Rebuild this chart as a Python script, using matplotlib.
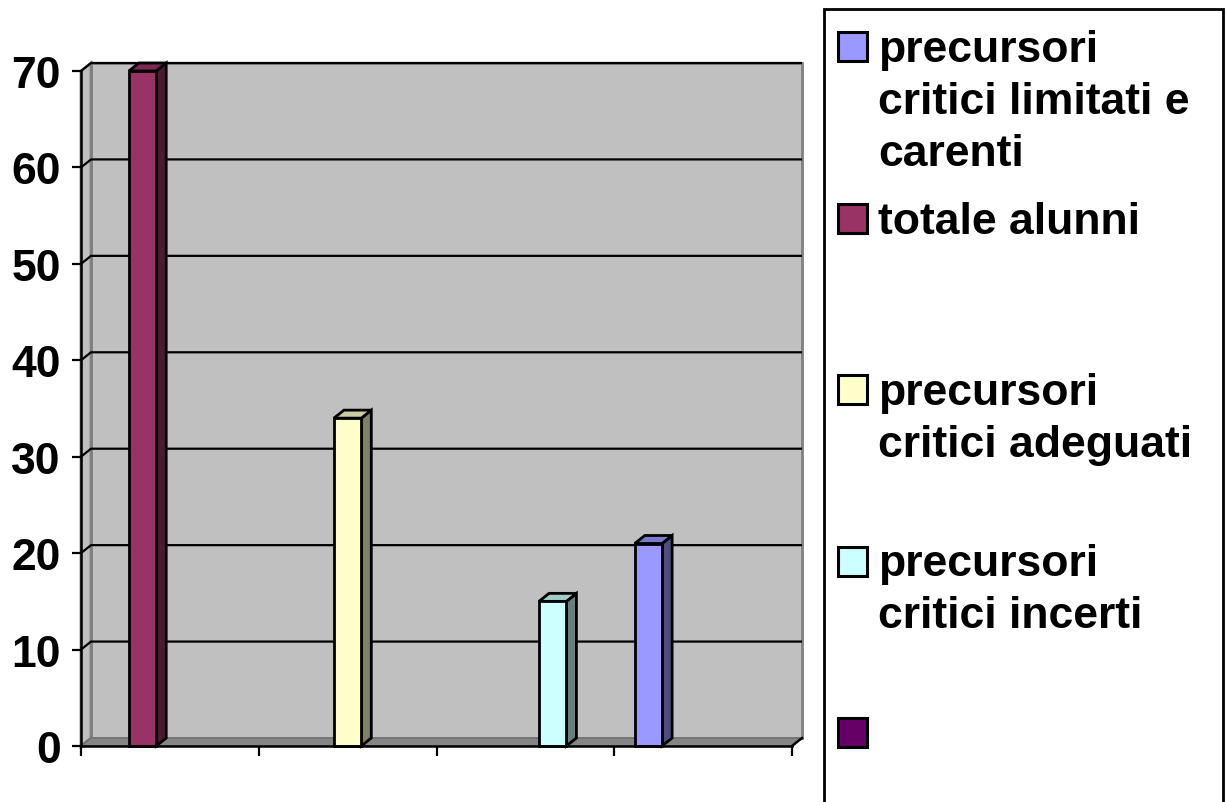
import matplotlib
matplotlib.use('Agg')
import matplotlib.pyplot as plt
from matplotlib.patches import Polygon, Rectangle
import numpy as np

plt.rcParams['font.family'] = ['Liberation Sans', 'DejaVu Sans']

# ---------------- data ----------------
categories = ['1', '2', '3', '4']          # categories carry no labels in the chart
y_ticks = [0, 10, 20, 30, 40, 50, 60, 70]

limitati_carenti = [0, 0, 0, 21]
totale_alunni = [70, 0, 0, 0]
adeguati = [0, 34, 0, 0]
incerti = [0, 0, 15, 0]
vuota = [0, 0, 0, 0]

series_labels = ['precursori\ncritici limitati e\ncarenti',
                 'totale alunni',
                 'precursori\ncritici adeguati',
                 'precursori\ncritici incerti',
                 '']
series_values = [limitati_carenti, totale_alunni, adeguati, incerti, vuota]

# front / top / side colours of each series
front_colors = ['#9999ff', '#993366', '#ffffcc', '#ccffff', '#660066']
top_colors = ['#7a7acc', '#7a2952', '#cccca3', '#a3cccc', '#520052']
side_colors = ['#4d4d80', '#4d1a33', '#808066', '#668080', '#330033']

# ---------------- figure ----------------
W, H = 1227, 803
fig = plt.figure(figsize=(W / 100, H / 100), dpi=100)

ax_l, ax_r, ax_t, ax_b = 81, 792, 72, 747
ax = fig.add_axes([ax_l / W, (H - ax_b) / H, (ax_r - ax_l) / W, (ax_b - ax_t) / H])
ncat = len(categories)
ymax = 70
ax.set_xlim(0, ncat)
ax.set_ylim(0, ymax)
ax.set_facecolor('none')

# depth of the 3-D effect (pixels -> data units)
px_x = (ax_r - ax_l) / ncat
px_y = (ax_b - ax_t) / ymax
DX = 10 / px_x
DY = 8 / px_y
BDX = 10 / px_x
BDY = 8 / px_y

wall_c = '#c0c0c0'
wall_edge = '#808080'

# back wall
ax.add_patch(Rectangle((DX, DY), ncat, ymax, facecolor=wall_c, edgecolor=wall_edge,
                       lw=2, zorder=0, clip_on=False))
# side wall
ax.add_patch(Polygon([(0, 0), (DX, DY), (DX, ymax + DY), (0, ymax)], closed=True,
                     facecolor=wall_c, edgecolor=wall_edge, lw=2, zorder=0.5, clip_on=False))
# floor
ax.add_patch(Polygon([(0, 0), (ncat, 0), (ncat + DX, DY), (DX, DY)], closed=True,
                     facecolor='#858585', edgecolor='#707070', lw=1, zorder=1, clip_on=False))

# gridlines on the walls
for v in y_ticks[1:]:
    ax.plot([0, DX, ncat + DX], [v, v + DY, v + DY], color='black', lw=1.6,
            zorder=1, clip_on=False, solid_capstyle='butt')

# floor front-right edge
ax.plot([ncat, ncat + DX], [0, DY], color='black', lw=1.8, zorder=5, clip_on=False)

# bars (clustered, gap width 150%)
nser = len(series_values)
slot = 1.0 / (nser + 1.5)
gap = 0.75 * slot
for i, vals in enumerate(series_values):
    for j, v in enumerate(vals):
        if v <= 0:
            continue
        x0 = j + gap + i * slot
        x1 = x0 + slot
        ax.add_patch(Polygon([(x1, 0), (x1 + BDX, BDY), (x1 + BDX, v + BDY), (x1, v)],
                             closed=True, facecolor=side_colors[i], edgecolor='black',
                             lw=2.0, zorder=3, clip_on=False, joinstyle='miter'))
        ax.add_patch(Polygon([(x0, v), (x1, v), (x1 + BDX, v + BDY), (x0 + BDX, v + BDY)],
                             closed=True, facecolor=top_colors[i], edgecolor='black',
                             lw=2.0, zorder=3, clip_on=False, joinstyle='miter'))
        ax.bar(x0, v, width=slot, align='edge', color=front_colors[i], edgecolor='black',
               lw=2.0, zorder=4, clip_on=False)

# axes lines and ticks
for s in ['top', 'right']:
    ax.spines[s].set_visible(False)
for s in ['left', 'bottom']:
    ax.spines[s].set_color('black')
    ax.spines[s].set_linewidth(1.8)
    ax.spines[s].set_zorder(6)
ax.set_yticks(y_ticks)
ax.set_yticklabels([str(t) for t in y_ticks], fontsize=32, fontweight='bold')
ax.set_xticks(np.arange(ncat + 1))
ax.set_xticklabels([])
ax.tick_params(axis='y', direction='out', length=6.5, width=1.6, pad=8, color='black')
ax.tick_params(axis='x', direction='out', length=7.5, width=1.6, color='black')

# ---------------- legend (drawn in pixel space) ----------------
lg = fig.add_axes([0, 0, 1, 1])
lg.set_xlim(0, W)
lg.set_ylim(H, 0)
lg.axis('off')
lg.patch.set_alpha(0)
lg.add_patch(Rectangle((824, 10), 399, 820, facecolor='white', edgecolor='black',
                       lw=2, zorder=0, clip_on=False))
first_center = 47
step = 171.5
for i, lab in enumerate(series_labels):
    c = first_center + i * step
    lg.add_patch(Rectangle((838, c - 14), 29, 29, facecolor=front_colors[i],
                           edgecolor='black', lw=2.2, zorder=2))
    for k, line in enumerate(lab.split('\n')):
        if line:
            lg.text(878, c + 15 + k * 52, line, fontsize=32, fontweight='bold',
                    va='baseline', ha='left', color='black')

fig.savefig('out.png', dpi=100, facecolor='white')
